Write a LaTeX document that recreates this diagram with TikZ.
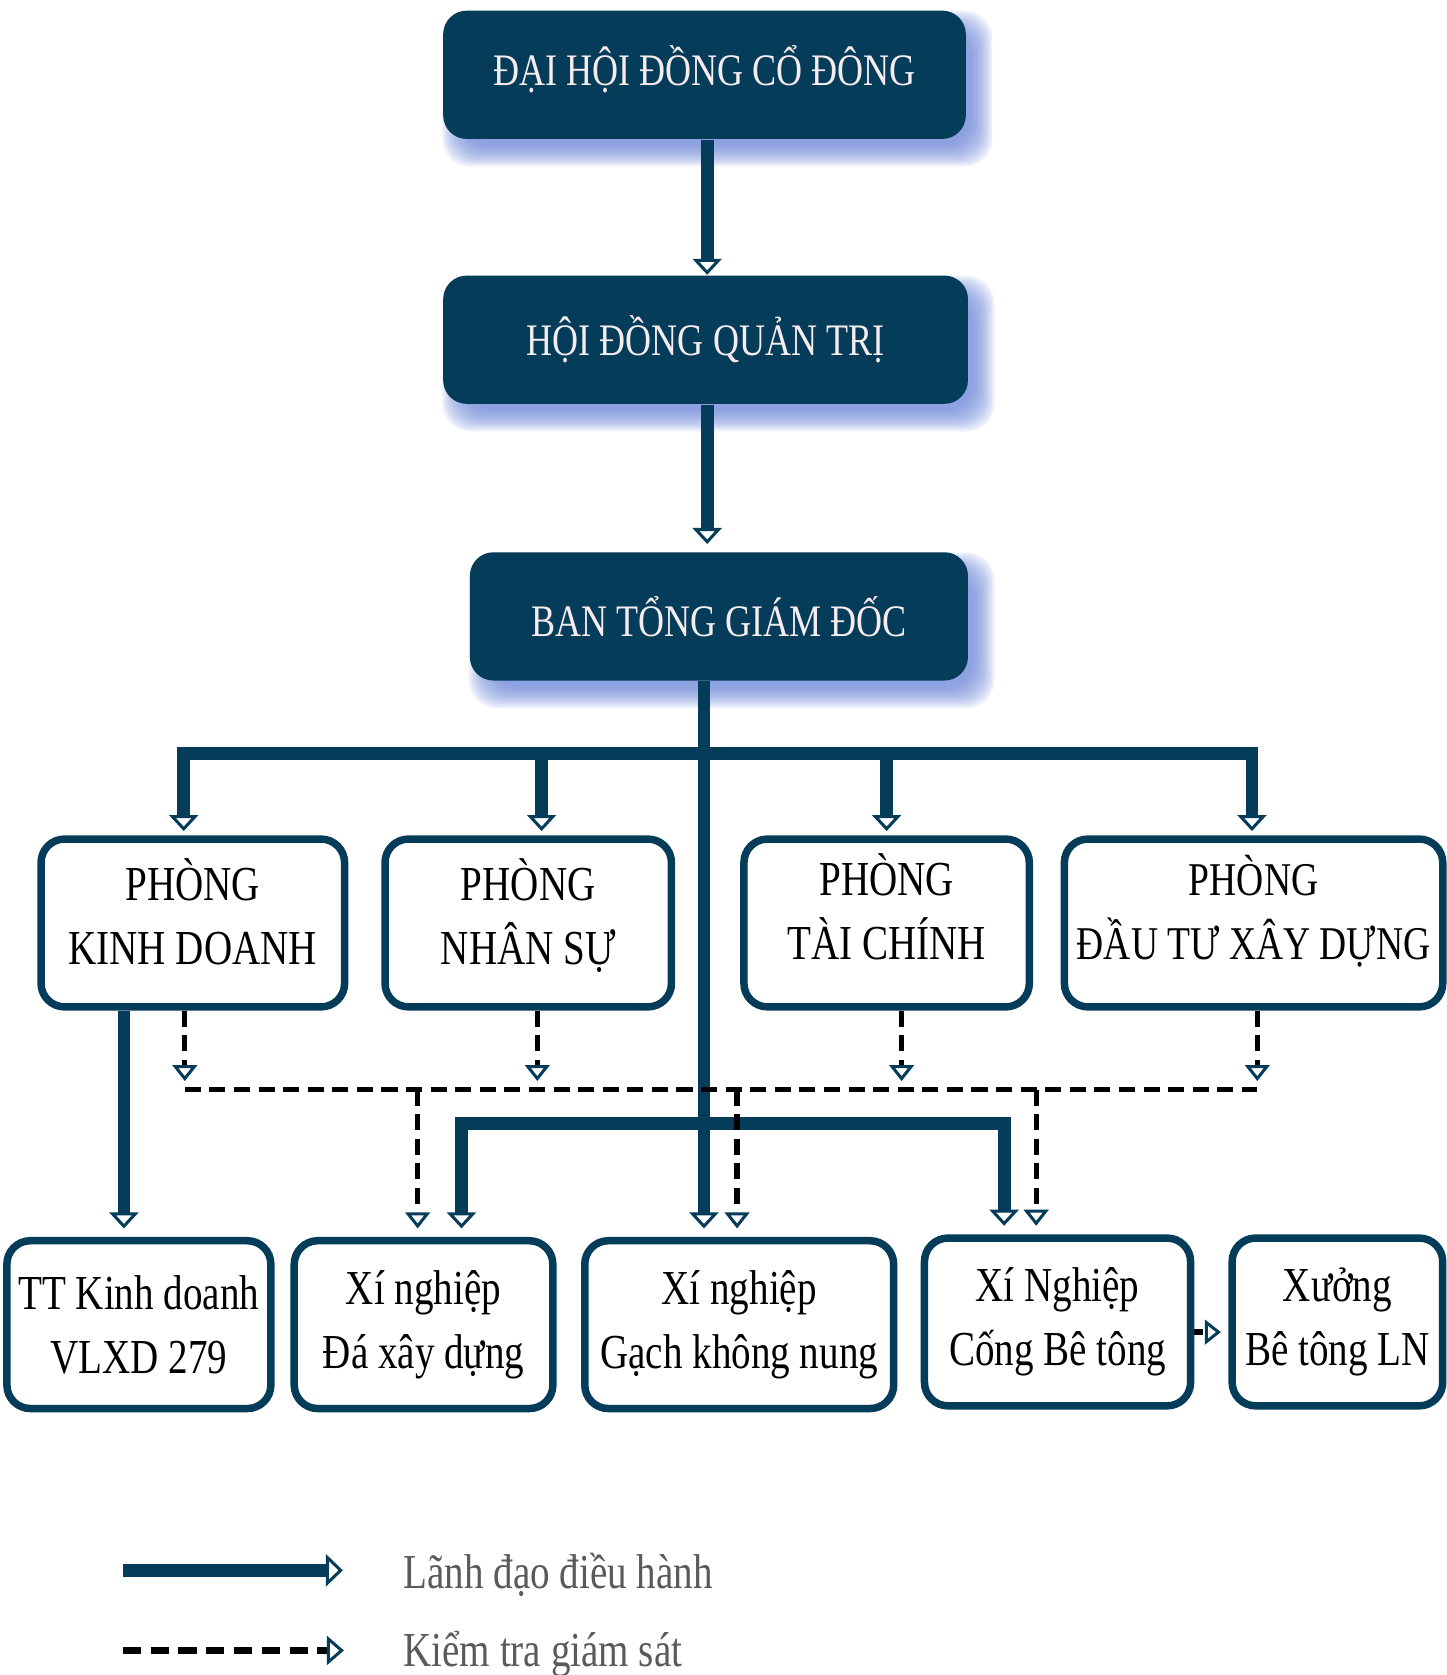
\documentclass[tikz,border=0pt]{standalone}
\usepackage{fontspec}
\setmainfont{Liberation Serif}[FakeStretch=0.8]
\usetikzlibrary{arrows.meta,calc,backgrounds}
\definecolor{navy}{RGB}{4,60,90}
\definecolor{haze}{RGB}{110,135,215}
\definecolor{paper}{RGB}{246,236,238}
\definecolor{legendgray}{RGB}{90,90,90}
\tikzstyle{topblock} = [rectangle, rounded corners=0.22cm, fill=navy,
    text=paper, font=\fontsize{12}{14}\selectfont, inner sep=0pt, minimum height=1.2cm]
\tikzstyle{block} = [rectangle, rounded corners=0.22cm, draw=navy, line width=0.07cm,
    fill=white, align=center, font=\fontsize{13}{17}\selectfont, inner sep=0pt, minimum height=1.57cm]
\tikzstyle{dept} = [block, text height=29pt, text depth=6.8pt]
\tikzstyle{legendtext} = [text=legendgray, font=\fontsize{13}{17}\selectfont, anchor=west, inner sep=0pt]
\tikzstyle{lead} = [draw=navy, line width=0.12cm,
    -{Triangle[color=navy, fill=white, width=0.27cm, length=0.15cm, line width=0.8pt]}]
\tikzstyle{check} = [draw=black, line width=0.05cm, dash pattern=on 0.15cm off 0.08cm,
    -{Triangle[color=navy, fill=white, width=0.23cm, length=0.15cm, line width=0.8pt]}]
\tikzstyle{checkbus} = [draw=black, line width=0.05cm, dash pattern=on 0.15cm off 0.08cm]

\begin{document}
\begin{tikzpicture}[x=0.01cm, y=-0.01cm]
    \useasboundingbox (0,0) rectangle (1354,1568);
    % Place nodes
    \node[topblock, minimum width=4.89cm, text height=11pt, text depth=5.5pt] (dhd) at (659.5,70) {ĐẠI HỘI ĐỒNG CỔ ĐÔNG};
    \node[topblock, minimum width=4.91cm] (hdqt) at (660.5,318) {HỘI ĐỒNG QUẢN TRỊ};
    \node[topblock, minimum width=4.66cm] (btgd) at (673,577) {BAN TỔNG GIÁM ĐỐC};
    \node[dept, minimum width=2.84cm] (pkd) at (180.5,864) {PHÒNG\\KINH DOANH};
    \node[dept, minimum width=2.68cm] (pns) at (494.5,864) {PHÒNG\\NHÂN SỰ};
    \node[dept, minimum width=2.67cm, text depth=9.6pt] (ptc) at (830,864) {PHÒNG\\TÀI CHÍNH};
    \node[dept, minimum width=3.54cm, text depth=9.6pt, font=\fontsize{12.5}{17}\selectfont] (pdt) at (1173.5,864) {PHÒNG\\ĐẦU TƯ XÂY DỰNG};
    \node[block, minimum width=2.47cm] (ttkd) at (130,1240) {TT Kinh doanh\\VLXD 279};
    \node[block, minimum width=2.42cm] (xnda) at (396.5,1240) {Xí nghiệp\\Đá xây dựng};
    \node[block, minimum width=2.89cm] (xngach) at (692,1240) {Xí nghiệp\\Gạch không nung};
    \node[block, minimum width=2.49cm] (xncong) at (990,1237.5) {Xí Nghiệp\\Cống Bê tông};
    \node[block, minimum width=1.97cm] (xuong) at (1252,1237.5) {Xưởng\\Bê tông LN};
    \node[legendtext] (lgA) at (377,1474) {Lãnh đạo điều hành};
    \node[legendtext] (lgB) at (377,1548) {Kiểm tra giám sát};
    % Shadows of the top blocks
    \begin{scope}[on background layer]
    \foreach \n in {dhd,hdqt,btgd}
        \foreach \e in {-8,-6,...,12}
            \fill[haze, opacity=0.13, rounded corners=0.26cm]
                ($(\n.south west)+(12-\e,13+\e)$) rectangle ($(\n.north east)+(12+\e,13-\e)$);
    \end{scope}
    % Draw edges
    \coordinate (xa) at (662,0);
    \coordinate (jn) at (659,705);
    \coordinate (jb) at (659,1052);
    \coordinate (bus) at (0,1020);
    \coordinate (k1) at (172,0);
    \coordinate (k2) at (507,0);
    \coordinate (k3) at (830,0);
    \coordinate (k4) at (1172,0);
    \coordinate (m1) at (116,0);
    \coordinate (m2) at (432,0);
    \coordinate (m4) at (940,0);
    \coordinate (c1) at (173,0);
    \coordinate (c2) at (503,0);
    \coordinate (c3) at (844,0);
    \coordinate (c4) at (1177,0);
    \coordinate (c5) at (391,0);
    \coordinate (c6) at (690,0);
    \coordinate (c7) at (970,0);
    \path [lead] (dhd.south -| xa) -- (hdqt.north -| xa);
    \path [lead, shorten >=0.07cm] (hdqt.south -| xa) -- (btgd.north -| xa);
    \path [lead, shorten >=0.08cm] (btgd.south -| jn) -- (jn |- xngach.north);
    \foreach \k/\d in {k1/pkd,k2/pns,k3/ptc,k4/pdt}
        \path [lead, shorten >=0.04cm] (jn) -| (\k |- \d.north);
    \path [lead, shorten >=0.08cm] (jb) -| (m2 |- xnda.north);
    \path [lead, shorten >=0.08cm] (jb) -| (m4 |- xncong.north);
    \path [lead, shorten >=0.08cm] (m1 |- pkd.south) -- (m1 |- ttkd.north);
    \foreach \c/\d in {c1/pkd,c2/pns,c3/ptc,c4/pdt}
        \path [check, shorten >=0.08cm] (\c |- \d.south) -- (\c |- bus);
    \path [checkbus] (c1 |- bus) -- (c4 |- bus);
    \path [check, shorten >=0.08cm] (c5 |- bus) -- (c5 |- xnda.north);
    \path [check, shorten >=0.08cm] (c6 |- bus) -- (c6 |- xngach.north);
    \path [check, shorten >=0.08cm] (c7 |- bus) -- (c7 |- xncong.north);
    \path [check, dash pattern=on 0.08cm off 0.05cm, shorten >=0.07cm]
        ($(xncong.east)+(0,9.5)$) -- ($(xuong.west)+(0,9.5)$);
    % Legend
    \coordinate (la) at (115,1470);
    \coordinate (lb) at (321,1470);
    \coordinate (lc) at (115,1545);
    \coordinate (ld) at (322,1545);
    \path [lead, -{Triangle[color=navy, fill=white, width=0.3cm, length=0.16cm, line width=0.8pt]}] (la) -- (lb);
    \path [check, line width=0.06cm, dash pattern=on 0.17cm off 0.09cm,
        -{Triangle[color=navy, fill=white, width=0.27cm, length=0.16cm, line width=0.8pt]}] (lc) -- (ld);
\end{tikzpicture}
\end{document}
